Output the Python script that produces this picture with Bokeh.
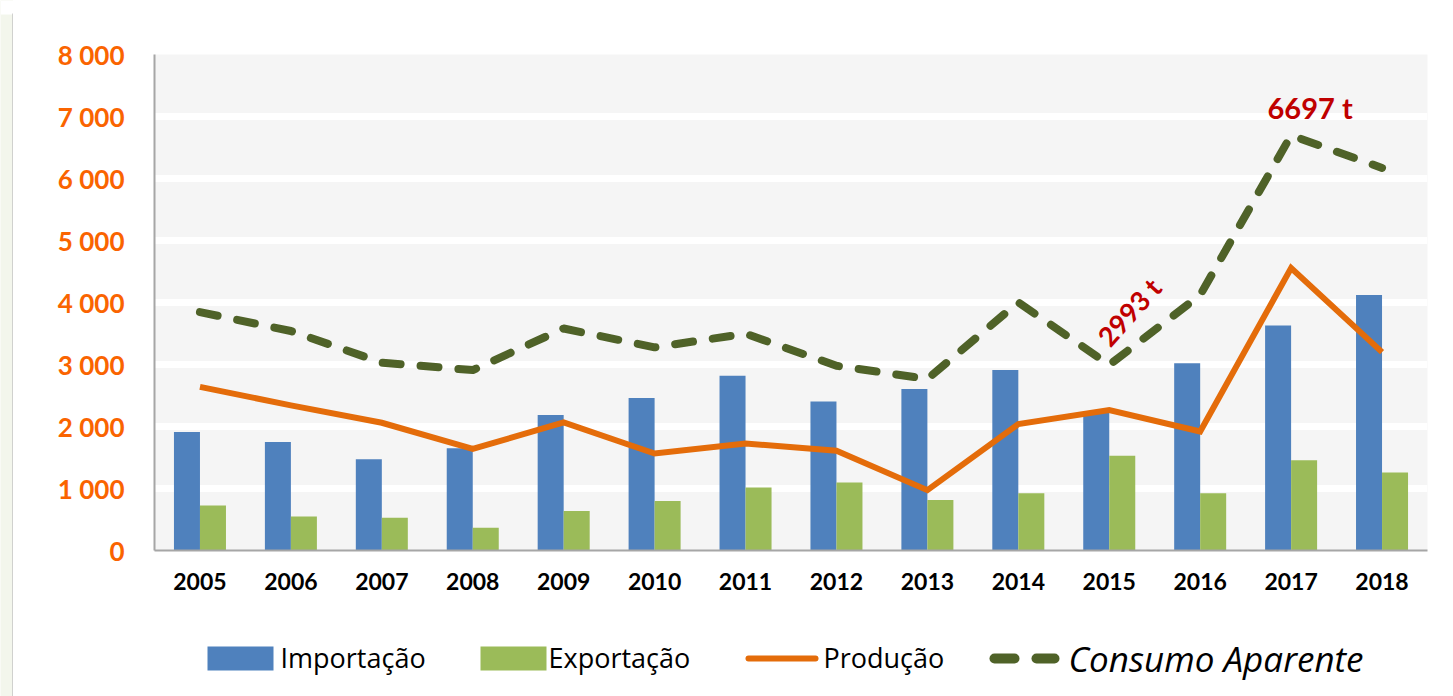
from bokeh.plotting import figure
from bokeh.models import Range1d, FixedTicker, Label, ColumnDataSource
from bokeh.layouts import column, row
from bokeh.embed import file_html
from bokeh.resources import INLINE

# ---------------- data ----------------
years = ["2005", "2006", "2007", "2008", "2009", "2010", "2011",
         "2012", "2013", "2014", "2015", "2016", "2017", "2018"]
importacao = [1910, 1750, 1470, 1650, 2185, 2460, 2820, 2405, 2605, 2910, 2240, 3020, 3630, 4120]
exportacao = [727, 549, 528, 366, 638, 800, 1015, 1096, 816, 924, 1527, 924, 1454, 1260]
producao = [2640, 2340, 2060, 1640, 2065, 1565, 1725, 1608, 973, 2039, 2265, 1919, 4556, 3200]
consumo = [3845, 3540, 3030, 2910, 3580, 3277, 3497, 2980, 2766, 4003, 2993, 4120, 6697, 6170]
y_ticks = [0, 1000, 2000, 3000, 4000, 5000, 6000, 7000, 8000]
y_tick_labels = ["0", "1 000", "2 000", "3 000", "4 000", "5 000", "6 000", "7 000", "8 000"]
series_names = ["Importação", "Exportação", "Produção", "Consumo Aparente"]
annotations = [(12, 6697, "6697 t"), (10, 2993, "2993 t")]

BLUE = "#4f81bd"
GREEN = "#9bbb59"
ORANGE = "#e46c0a"
DKGREEN = "#4f6228"
RED = "#c00000"
AXIS_ORANGE = "#fa6400"
FONT = "Lato"
LFONT = "Open Sans"

W, H = 1453, 696
SW = 13                                # decorative strip at the left
FL, FR, FT, FB = 154, 1427, 54, 550   # frame edges on the page
H1 = 620                               # height of the chart part
CW = W - SW                            # width of chart column
CL = FL - SW                           # left border inside chart column

xs = list(range(len(years)))
src = ColumnDataSource(dict(
    x=xs,
    xi=[v - 0.143 for v in xs],
    xe=[v + 0.143 for v in xs],
    imp=importacao, exp=exportacao, prod=producao, cons=consumo,
))

p = figure(width=CW, height=H1, output_backend="svg", toolbar_location=None,
           x_range=Range1d(-0.5, len(years) - 0.5), y_range=Range1d(0, 8000),
           min_border_left=CL, min_border_right=W - FR, min_border_top=FT,
           min_border_bottom=H1 - FB)
p.background_fill_color = "#f5f5f5"
p.border_fill_color = "white"
p.outline_line_color = None

p.vbar(x="xi", top="imp", width=0.286, source=src, fill_color=BLUE, line_color=None)
p.vbar(x="xe", top="exp", width=0.286, source=src, fill_color=GREEN, line_color=None)
p.line(x="x", y="prod", source=src, line_color=ORANGE, line_width=6, line_join="miter")
p.line(x="x", y="cons", source=src, line_color=DKGREEN, line_width=8,
       line_dash="18 20", line_cap="round", line_join="round")

# axes
p.xgrid.grid_line_color = None
p.ygrid.ticker = FixedTicker(ticks=y_ticks)
p.ygrid.grid_line_color = "white"
p.ygrid.grid_line_width = 7

ya = p.yaxis[0]
ya.ticker = FixedTicker(ticks=y_ticks)
ya.major_label_overrides = {t: l for t, l in zip(y_ticks, y_tick_labels)}
ya.major_label_text_color = AXIS_ORANGE
ya.major_label_text_font = FONT
ya.major_label_text_font_style = "bold"
ya.major_label_text_font_size = "26px"
ya.major_tick_line_color = None
ya.minor_tick_line_color = None
ya.major_tick_out = 0
ya.major_tick_in = 0
ya.major_label_standoff = 30
ya.axis_line_color = "#a6a6a6"
ya.axis_line_width = 2

xa = p.xaxis[0]
xa.ticker = FixedTicker(ticks=xs)
xa.major_label_overrides = {i: y for i, y in enumerate(years)}
xa.major_label_text_color = "black"
xa.major_label_text_font = FONT
xa.major_label_text_font_style = "bold"
xa.major_label_text_font_size = "23px"
xa.major_tick_line_color = None
xa.minor_tick_line_color = None
xa.major_tick_out = 0
xa.major_tick_in = 0
xa.major_label_standoff = 22
xa.axis_line_color = "#a6a6a6"
xa.axis_line_width = 2

# annotations
(ax1, ay1, t1), (ax2, ay2, t2) = annotations
p.add_layout(Label(x=ax1, y=ay1, text=t1, x_offset=19, y_offset=28,
                   text_align="center", text_baseline="alphabetic",
                   text_color=RED, text_font=FONT, text_font_style="bold",
                   text_font_size="29px"))
p.add_layout(Label(x=ax2, y=ay2, text=t2, x_offset=20, y_offset=53,
                   text_align="center", text_baseline="middle", angle=0.84,
                   text_color=RED, text_font=FONT, text_font_style="bold",
                   text_font_size="27px"))

# ---------------- legend (separate strip, page x coordinates) ----------------
H2 = H - H1
lg = figure(width=CW, height=H2, output_backend="svg", toolbar_location=None,
            x_range=Range1d(FL, FR), y_range=Range1d(0, H2),
            min_border_left=CL, min_border_right=W - FR,
            min_border_top=0, min_border_bottom=0)
lg.axis.visible = False
lg.grid.visible = False
lg.outline_line_color = None
lg.background_fill_color = "white"
lg.border_fill_color = "white"

def ly(page_y):
    return H - page_y

lg.quad(left=[207], right=[273], bottom=[ly(670)], top=[ly(646)], fill_color=BLUE, line_color=None)
lg.quad(left=[480], right=[546], bottom=[ly(670)], top=[ly(646)], fill_color=GREEN, line_color=None)
lg.line(x=[748, 815], y=[ly(658), ly(658)], line_color=ORANGE, line_width=6, line_cap="round")
lg.line(x=[994, 1014], y=[ly(658), ly(658)], line_color=DKGREEN, line_width=10, line_cap="round")
lg.line(x=[1036, 1054], y=[ly(658), ly(658)], line_color=DKGREEN, line_width=10, line_cap="round")

for xpos, yb, name, size, style in [(280, 657, series_names[0], "27px", "normal"),
                                    (548, 657, series_names[1], "27px", "normal"),
                                    (823, 657, series_names[2], "27px", "normal"),
                                    (1068, 658, series_names[3], "35px", "italic")]:
    lg.add_layout(Label(x=xpos, y=ly(yb), text=name, text_align="left",
                        text_baseline="alphabetic",
                        text_color="black", text_font=LFONT, text_font_style=style,
                        text_font_size=size))

# ---------------- decorative strip at the left edge ----------------
st = figure(width=SW, height=H, output_backend="svg", toolbar_location=None,
            x_range=Range1d(0, SW), y_range=Range1d(0, H),
            min_border_left=0, min_border_right=0, min_border_top=0, min_border_bottom=0)
st.axis.visible = False
st.grid.visible = False
st.outline_line_color = None
st.background_fill_color = "#f3f6ec"
st.border_fill_color = "#f3f6ec"
st.quad(left=[0], right=[SW], bottom=[H - 14], top=[H], fill_color="white", line_color=None)
st.line(x=[12.5, 12.5], y=[0, H - 13], line_color="#c4c4c4", line_width=1.5)

layout = row(st, column(p, lg, spacing=0), spacing=0)
open("out.html", "w").write(file_html(layout, INLINE))
